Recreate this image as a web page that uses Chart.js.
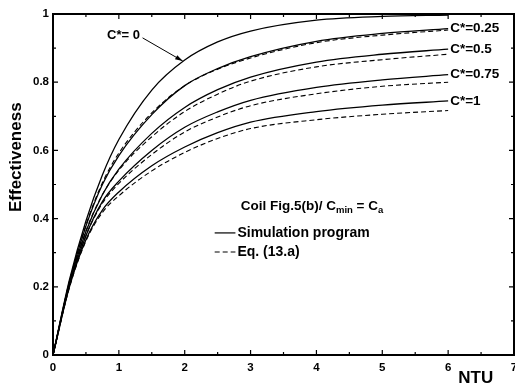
<!DOCTYPE html>
<html>
<head>
<meta charset="utf-8">
<script src="https://cdn.jsdelivr.net/npm/chart.js@4.4.1/dist/chart.umd.min.js"></script>
<style>
  html, body { margin: 0; padding: 0; background: #fff; }
</style>
</head>
<body>
<canvas id="c" width="515" height="389"></canvas>
<script>
// NTU sample points
const NTU = [0, 0.25, 0.5, 0.75, 1, 1.5, 2, 2.5, 3, 4, 5, 6];

// Simulation program (solid)
const SIM_C0   = [0, 0.221, 0.393, 0.528, 0.632, 0.777, 0.865, 0.918, 0.950, 0.982, 0.993, 0.997];
const SIM_C025 = [0, 0.215, 0.378, 0.500, 0.585, 0.705, 0.790, 0.840, 0.875, 0.920, 0.943, 0.957];
const SIM_C05  = [0, 0.210, 0.362, 0.470, 0.545, 0.650, 0.726, 0.778, 0.815, 0.859, 0.882, 0.897];
const SIM_C075 = [0, 0.205, 0.350, 0.450, 0.510, 0.600, 0.668, 0.713, 0.747, 0.785, 0.807, 0.822];
const SIM_C1   = [0, 0.200, 0.338, 0.425, 0.478, 0.555, 0.610, 0.652, 0.683, 0.714, 0.733, 0.745];

// Eq. (13.a) (dashed)
const EQ_C025 = [0, 0.216, 0.381, 0.505, 0.592, 0.710, 0.790, 0.838, 0.871, 0.916, 0.938, 0.953];
const EQ_C05  = [0, 0.210, 0.364, 0.470, 0.542, 0.640, 0.714, 0.765, 0.803, 0.845, 0.866, 0.882];
const EQ_C075 = [0, 0.205, 0.350, 0.445, 0.503, 0.588, 0.654, 0.698, 0.731, 0.766, 0.788, 0.800];
const EQ_C1   = [0, 0.198, 0.334, 0.418, 0.467, 0.540, 0.594, 0.635, 0.664, 0.690, 0.706, 0.717];

const END_LABELS = ["C*=0.25", "C*=0.5", "C*=0.75", "C*=1"];
const X_LABELS = ["0", "1", "2", "3", "4", "5", "6", "7"];
const Y_LABELS = ["0", "0.2", "0.4", "0.6", "0.8", "1"];

const FONT = "'Liberation Sans', Arial, Helvetica, sans-serif";

const pts = ys => NTU.map((x, i) => ({ x, y: ys[i] }));

function line(ys, dashed) {
  return {
    data: pts(ys),
    borderColor: "#000",
    borderWidth: dashed ? 1.1 : 1.3,
    borderDash: dashed ? [5, 3] : [],
    pointRadius: 0,
    fill: false,
    cubicInterpolationMode: "monotone",
  };
}

const isMajor = (v, step) => Math.abs(v / step - Math.round(v / step)) < 1e-6;

// frame, inner ticks, titles and annotations
const decor = {
  id: "decor",
  afterDraw(chart) {
    const { ctx, chartArea: a, scales: { x, y } } = chart;
    ctx.save();
    ctx.strokeStyle = "#000";
    ctx.fillStyle = "#000";

    ctx.lineWidth = 2;
    ctx.strokeRect(a.left, a.top, a.right - a.left, a.bottom - a.top);

    ctx.lineWidth = 1.2;
    ctx.beginPath();
    x.ticks.forEach(t => {
      const px = x.getPixelForValue(t.value);
      const len = isMajor(t.value, 1) ? 5 : 3;
      ctx.moveTo(px, a.bottom); ctx.lineTo(px, a.bottom - len);
      ctx.moveTo(px, a.top); ctx.lineTo(px, a.top + len);
    });
    y.ticks.forEach(t => {
      const py = y.getPixelForValue(t.value);
      const len = isMajor(t.value, 0.2) ? 5 : 3;
      ctx.moveTo(a.left, py); ctx.lineTo(a.left + len, py);
      ctx.moveTo(a.right, py); ctx.lineTo(a.right - len, py);
    });
    ctx.stroke();

    // axis titles
    ctx.font = "bold 17px " + FONT;
    ctx.textBaseline = "middle";
    ctx.textAlign = "center";
    ctx.fillText("NTU", x.getPixelForValue(6.42), 378);
    ctx.save();
    ctx.translate(16, y.getPixelForValue(0.58));
    ctx.rotate(-Math.PI / 2);
    ctx.fillText("Effectiveness", 0, 0);
    ctx.restore();

    // curve end labels
    ctx.textAlign = "left";
    ctx.font = "bold 13.5px " + FONT;
    [SIM_C025, SIM_C05, SIM_C075, SIM_C1].forEach((s, i) => {
      ctx.fillText(END_LABELS[i], x.getPixelForValue(6) + 2, y.getPixelForValue(s[s.length - 1]));
    });

    // C*=0 with arrow
    ctx.font = "bold 13px " + FONT;
    ctx.fillText("C*= 0", x.getPixelForValue(0.82), y.getPixelForValue(0.936));
    const x0 = x.getPixelForValue(1.36), y0 = y.getPixelForValue(0.93);
    const x1 = x.getPixelForValue(1.97), y1 = y.getPixelForValue(0.862);
    const ang = Math.atan2(y1 - y0, x1 - x0);
    ctx.lineWidth = 1;
    ctx.beginPath(); ctx.moveTo(x0, y0); ctx.lineTo(x1, y1); ctx.stroke();
    ctx.beginPath();
    ctx.moveTo(x1, y1);
    ctx.lineTo(x1 - 8 * Math.cos(ang - 0.3), y1 - 8 * Math.sin(ang - 0.3));
    ctx.lineTo(x1 - 8 * Math.cos(ang + 0.3), y1 - 8 * Math.sin(ang + 0.3));
    ctx.closePath(); ctx.fill();

    // legend box
    let lx = x.getPixelForValue(2.85);
    const ly = y.getPixelForValue(0.437);
    const seg = (txt, size, dy) => {
      ctx.font = "bold " + size + "px " + FONT;
      ctx.fillText(txt, lx, ly + dy);
      lx += ctx.measureText(txt).width;
    };
    seg("Coil Fig.5(b)/ C", 13.5, 0);
    seg("min", 9.5, 4);
    seg(" = C", 13.5, 0);
    seg("a", 9.5, 4);

    const sx0 = x.getPixelForValue(2.455), sx1 = x.getPixelForValue(2.77);
    const tx = x.getPixelForValue(2.80);
    const ys = y.getPixelForValue(0.358), ye = y.getPixelForValue(0.302);
    ctx.lineWidth = 1.2;
    ctx.beginPath(); ctx.moveTo(sx0, ys); ctx.lineTo(sx1, ys); ctx.stroke();
    ctx.setLineDash([5, 3]);
    ctx.beginPath(); ctx.moveTo(sx0, ye); ctx.lineTo(sx1, ye); ctx.stroke();
    ctx.setLineDash([]);
    ctx.font = "bold 14px " + FONT;
    ctx.fillText("Simulation program", tx, ys);
    ctx.fillText("Eq. (13.a)", tx, ye);

    ctx.restore();
  }
};

new Chart(document.getElementById("c"), {
  type: "line",
  data: {
    datasets: [
      line(SIM_C0, false),
      line(SIM_C025, false), line(EQ_C025, true),
      line(SIM_C05, false), line(EQ_C05, true),
      line(SIM_C075, false), line(EQ_C075, true),
      line(SIM_C1, false), line(EQ_C1, true),
    ]
  },
  options: {
    responsive: false,
    animation: false,
    layout: { padding: { top: 14, right: 1, left: 0, bottom: 0 } },
    plugins: { legend: { display: false }, tooltip: { enabled: false } },
    scales: {
      x: {
        type: "linear", min: 0, max: 7,
        grid: { display: false, drawTicks: false },
        border: { display: false },
        ticks: {
          stepSize: 0.5, autoSkip: false, maxRotation: 0, padding: 6,
          color: "#000", font: { family: FONT, size: 11.5, weight: "bold" },
          callback: v => isMajor(v, 1) ? X_LABELS[Math.round(v)] : "",
        },
        afterFit: s => { s.height = 34; s.paddingLeft = 0; s.paddingRight = 0; },
      },
      y: {
        type: "linear", min: 0, max: 1,
        grid: { display: false, drawTicks: false },
        border: { display: false },
        ticks: {
          stepSize: 0.1, autoSkip: false, padding: 4,
          color: "#000", font: { family: FONT, size: 11.5, weight: "bold" },
          callback: v => isMajor(v, 0.2) ? Y_LABELS[Math.round(v * 5)] : "",
        },
        afterFit: s => { s.width = 53; s.paddingTop = 0; s.paddingBottom = 0; },
      }
    }
  },
  plugins: [decor]
});
</script>
</body>
</html>
